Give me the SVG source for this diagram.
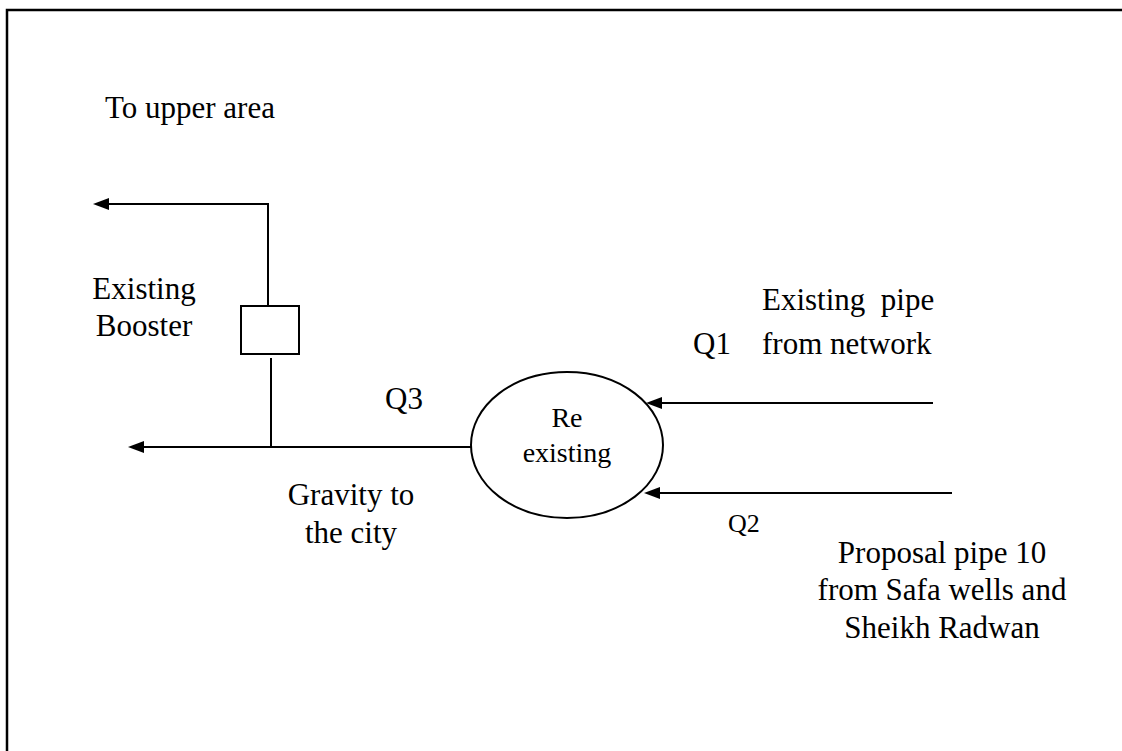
<svg xmlns="http://www.w3.org/2000/svg" width="1122" height="751" viewBox="0 0 1122 751">
<style>
text{font-family:"Liberation Serif","Times New Roman",serif;font-size:31px;fill:#000}
.sm{font-size:28px}
.q2{font-size:26px}
.ln{stroke:#000;stroke-width:2;fill:none}
</style>
<defs>
<marker id="ah" viewBox="0 0 16 12" refX="8" refY="6" markerWidth="16" markerHeight="12" markerUnits="userSpaceOnUse" orient="auto">
<path d="M0,0 L16,6 L0,12 z" fill="#000"/>
</marker>
</defs>
<rect width="1122" height="751" fill="#fff"/>
<rect x="7" y="10" width="1200" height="800" fill="none" stroke="#000" stroke-width="2.5"/>
<g id="connectors">
<line class="ln" x1="268" y1="204" x2="268" y2="306"/>
<line class="ln" x1="269" y1="204" x2="101" y2="204" marker-end="url(#ah)"/>
<line class="ln" x1="271" y1="358" x2="271" y2="447"/>
<line class="ln" x1="472" y1="447" x2="136" y2="447" marker-end="url(#ah)"/>
<line class="ln" x1="933" y1="403" x2="654" y2="403" marker-end="url(#ah)"/>
<line class="ln" x1="952" y1="493" x2="652" y2="493" marker-end="url(#ah)"/>
</g>
<g id="booster">
<rect class="ln" x="241" y="306" width="58" height="48"/>
<text x="144" y="299" text-anchor="middle">Existing</text>
<text x="144" y="336" text-anchor="middle">Booster</text>
</g>
<g id="reservoir">
<ellipse class="ln" cx="567" cy="445" rx="96" ry="73"/>
<text class="sm" x="567" y="427" text-anchor="middle">Re</text>
<text class="sm" x="567" y="462" text-anchor="middle">existing</text>
</g>
<g id="upper">
<text x="105" y="118">To upper area</text>
</g>
<g id="gravity">
<text x="351" y="505" text-anchor="middle">Gravity to</text>
<text x="351" y="543" text-anchor="middle">the city</text>
<text x="385" y="409">Q3</text>
</g>
<g id="existing-pipe">
<text x="762" y="310" xml:space="preserve">Existing  pipe</text>
<text x="762" y="354">from network</text>
<text x="693" y="354">Q1</text>
</g>
<g id="proposal-pipe">
<text class="q2" x="728" y="532">Q2</text>
<text x="942" y="563" text-anchor="middle">Proposal pipe 10</text>
<text x="942" y="600" text-anchor="middle">from Safa wells and</text>
<text x="942" y="638" text-anchor="middle">Sheikh Radwan</text>
</g>
</svg>
